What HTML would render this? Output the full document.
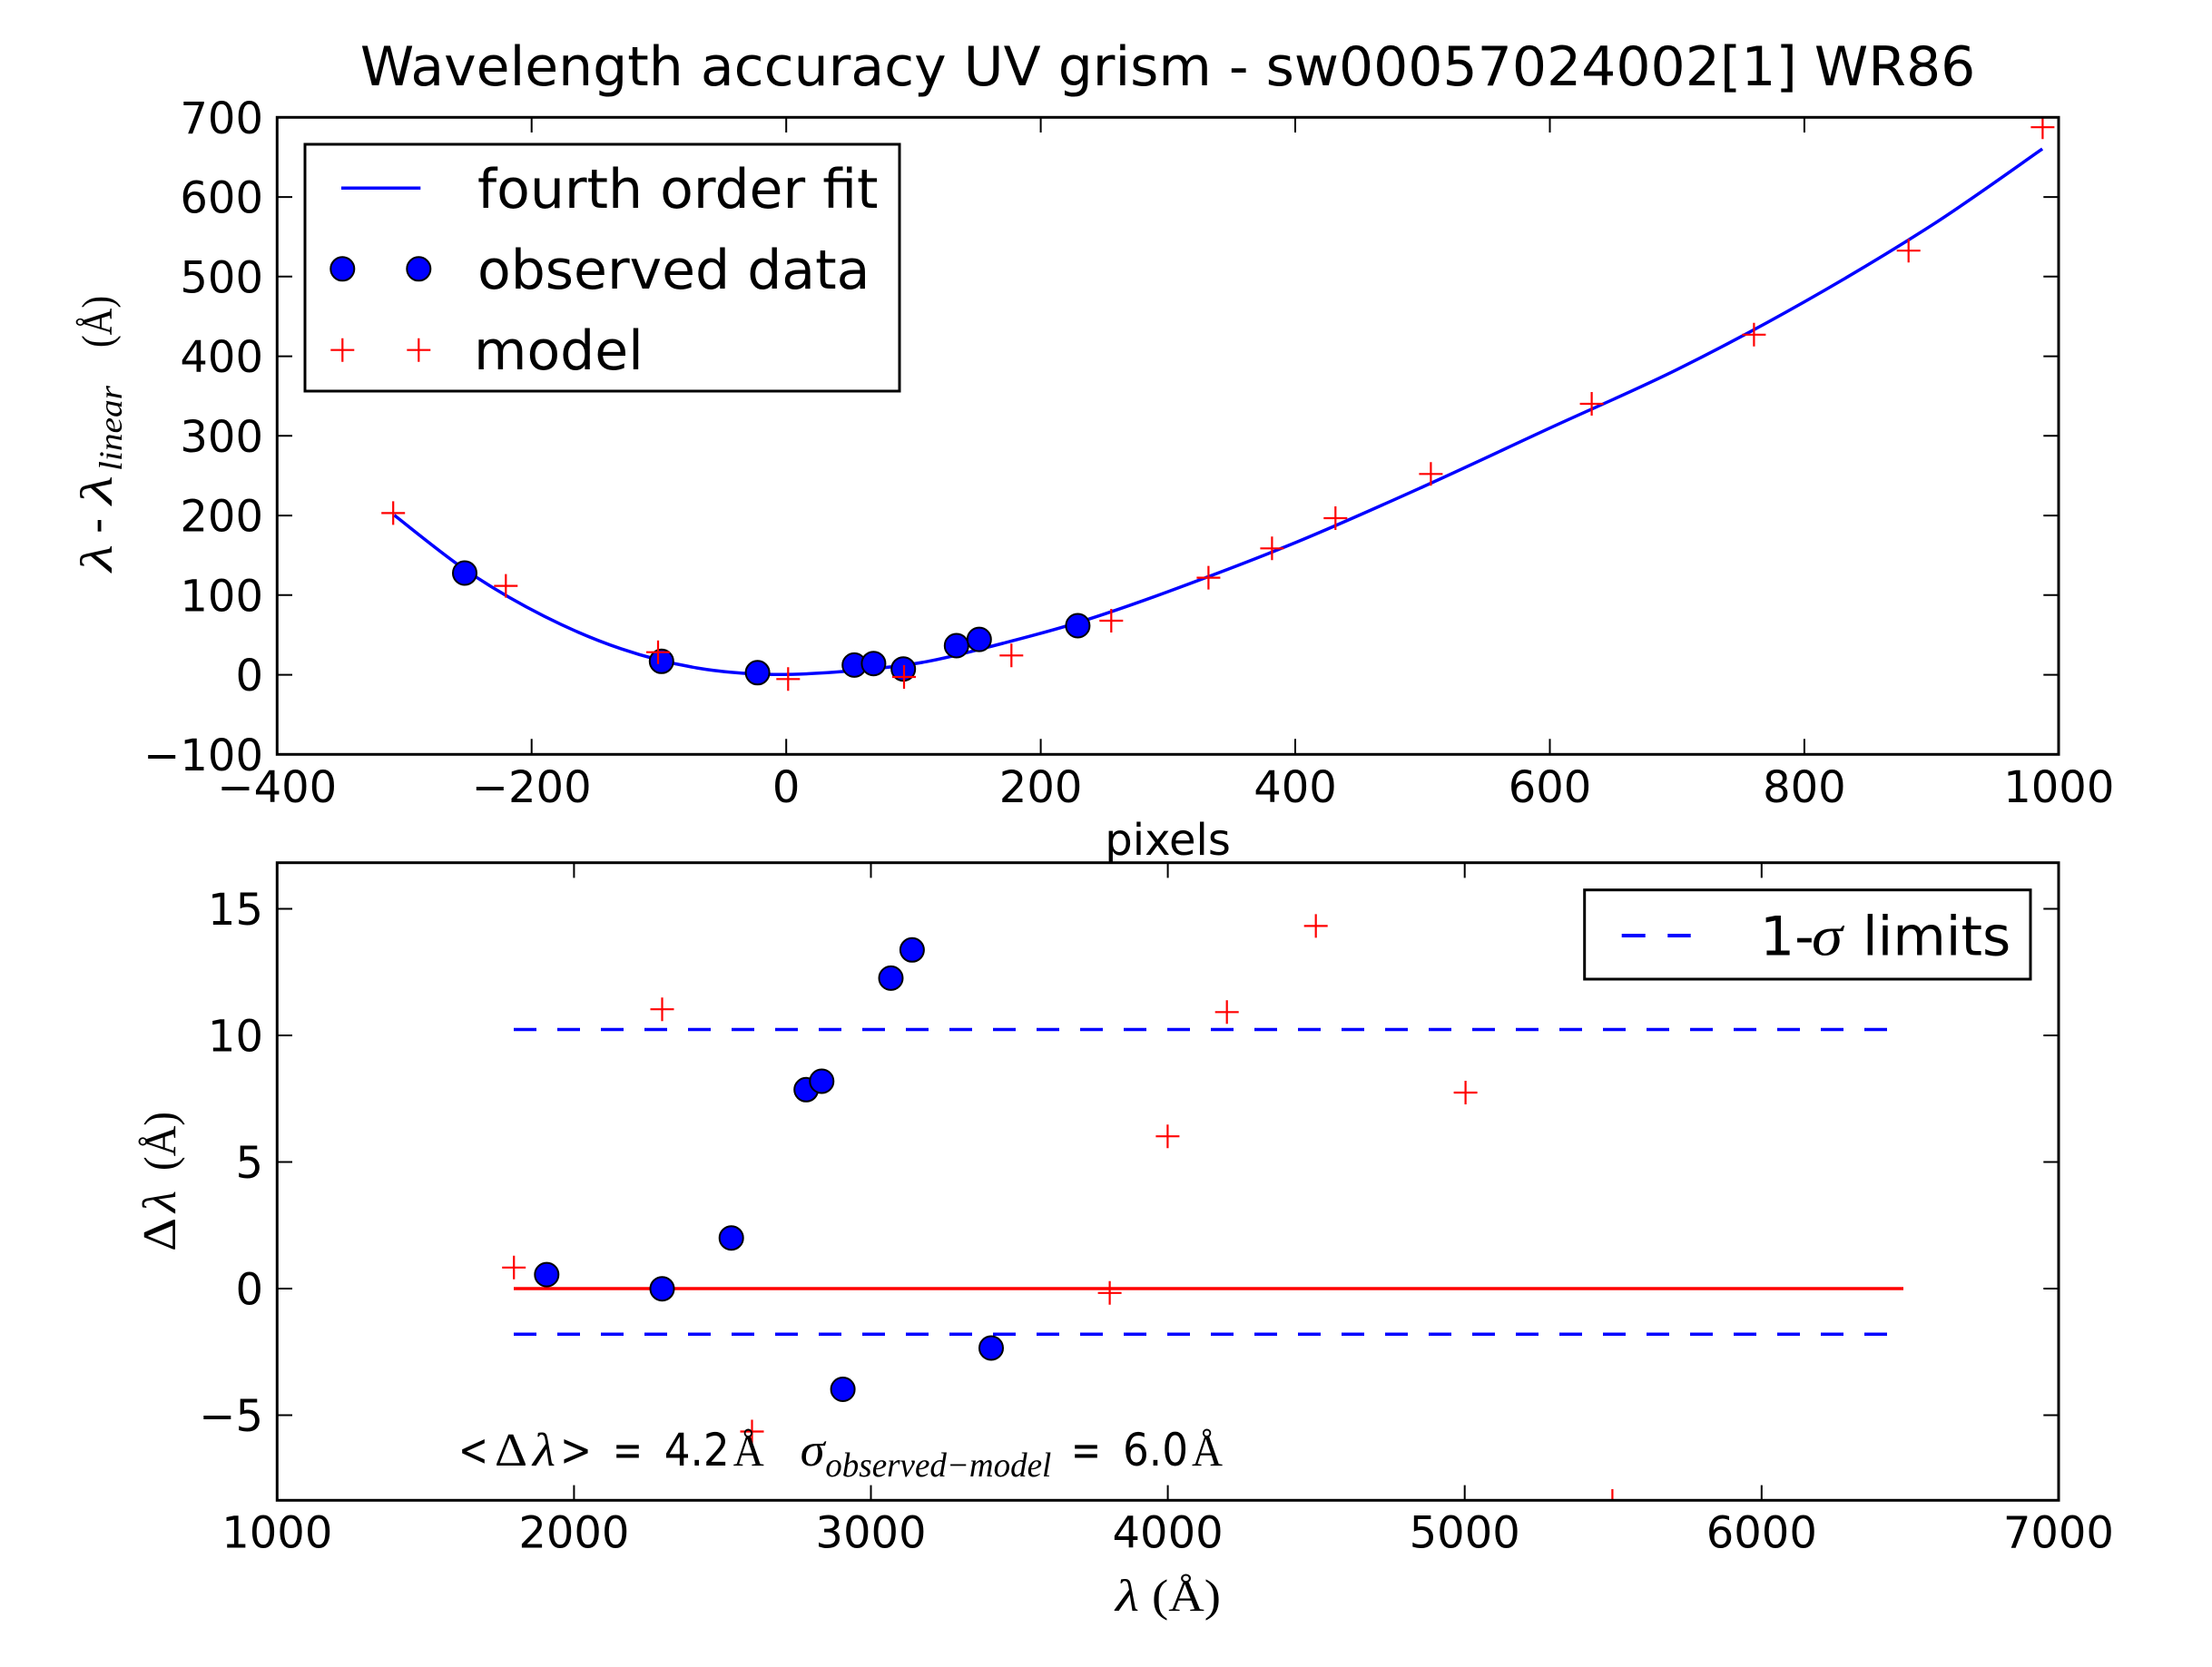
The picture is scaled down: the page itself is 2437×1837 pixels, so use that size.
<!DOCTYPE html>
<html>
<head>
<meta charset="utf-8">
<style>
  html, body { margin: 0; padding: 0; background: #ffffff; }
  svg { display: block; }
  .sans { font-family: "DejaVu Sans", "Liberation Sans", sans-serif; }
  .serif { font-family: "Liberation Serif", "DejaVu Serif", serif; }
  .it { font-style: italic; }
</style>
</head>
<body>
<svg width="2437" height="1837" viewBox="0 0 2437 1837" xmlns="http://www.w3.org/2000/svg">
  <rect x="0" y="0" width="2437" height="1837" fill="#ffffff"/>
  <defs>
    <clipPath id="clipBot">
      <rect x="305.3" y="950.7" width="1962.7" height="702.6"/>
    </clipPath>
    <clipPath id="clipTop">
      <rect x="305.3" y="129.3" width="1962.7" height="702"/>
    </clipPath>
  </defs>

  <!-- ================= TITLE ================= -->
  <text class="sans" x="1286.6" y="94" font-size="60" text-anchor="middle" fill="#000">Wavelength accuracy UV grism - sw00057024002[1] WR86</text>

  <!-- ================= TOP AXES ================= -->
  <g clip-path="url(#clipTop)">
    <path fill="none" stroke="#0000ff" stroke-width="3.5" stroke-linejoin="round"
      d="M434.4,567.75
         C447.95,578.13 488.13,611.47 515.7,630.05
         C543.27,648.63 571.77,665.07 599.8,679.2
         C627.83,693.33 655.85,705.34 683.9,714.8
         C711.95,724.3 740.05,731.36 768.1,736.1
         C796.15,740.84 824.17,742.7 852.2,743.25
         C880.23,743.5 908.27,741.74 936.3,739.4
         C964.33,737.06 992.35,734.27 1020.4,729.2
         C1048.45,724.13 1076.55,716.25 1104.6,709.0
         C1132.65,701.75 1158.33,695.2 1188.7,685.7
         C1219.07,676.2 1247.08,666.62 1286.8,652.0
         C1326.52,637.38 1380.25,617.23 1427.0,598.0
         C1473.75,578.77 1520.55,557.65 1567.3,536.6
         C1614.05,515.55 1660.77,493.27 1707.5,471.7
         C1754.23,450.13 1800.97,430.38 1847.7,407.2
         C1894.43,384.02 1941.17,359.08 1987.9,332.6
         C2034.63,306.12 2084.4,276.38 2128.1,248.3
         C2171.8,220.22 2229.77,178.13 2250.1,164.1"/>
    <!-- observed data circles -->
    <g fill="#0000ff" stroke="#000" stroke-width="2">
      <circle cx="512.0" cy="631.5" r="13"/>
      <circle cx="728.8" cy="728.8" r="13"/>
      <circle cx="834.6" cy="741.3" r="13"/>
      <circle cx="941.2" cy="732.9" r="13"/>
      <circle cx="962.4" cy="731.2" r="13"/>
      <circle cx="995.2" cy="737.2" r="13"/>
      <circle cx="1053.8" cy="711.5" r="13"/>
      <circle cx="1078.8" cy="704.6" r="13"/>
      <circle cx="1187.4" cy="689.5" r="13"/>
    </g>
    <!-- model crosses -->
    <g stroke="#ff0000" stroke-width="2.2" fill="none">
      <path d="M420.2,565.4h26M433.2,552.4v26"/>
      <path d="M544.3,645.6h26M557.3,632.6v26"/>
      <path d="M712,718.7h26M725,705.7v26"/>
      <path d="M855.3,748.3h26M868.3,735.3v26"/>
      <path d="M983,746h26M996,733v26"/>
      <path d="M1101.3,722.3h26M1114.3,709.3v26"/>
      <path d="M1211.3,684h26M1224.3,671v26"/>
      <path d="M1318.4,636.6h26M1331.4,623.6v26"/>
      <path d="M1388.4,604.3h26M1401.4,591.3v26"/>
      <path d="M1458.3,571h26M1471.3,558v26"/>
      <path d="M1563.4,522.3h26M1576.4,509.3v26"/>
      <path d="M1740.6,445h26M1753.6,432v26"/>
      <path d="M1919.4,368.8h26M1932.4,355.8v26"/>
      <path d="M2089.7,276.2h26M2102.7,263.2v26"/>
      <path d="M2237.4,140.2h26M2250.4,127.2v26"/>
    </g>
  </g>

  <!-- top axes ticks -->
  <g stroke="#000" stroke-width="2">
    <path d="M585.7,831v-16.7M866.2,831v-16.7M1146.6,831v-16.7M1427,831v-16.7M1707.5,831v-16.7M1987.9,831v-16.7"/>
    <path d="M585.7,129.3v16.7M866.2,129.3v16.7M1146.6,129.3v16.7M1427,129.3v16.7M1707.5,129.3v16.7M1987.9,129.3v16.7"/>
    <path d="M305.3,217.1h16.7M305.3,304.8h16.7M305.3,392.6h16.7M305.3,480.3h16.7M305.3,568.1h16.7M305.3,655.8h16.7M305.3,743.6h16.7"/>
    <path d="M2268,217.1h-16.7M2268,304.8h-16.7M2268,392.6h-16.7M2268,480.3h-16.7M2268,568.1h-16.7M2268,655.8h-16.7M2268,743.6h-16.7"/>
  </g>
  <rect x="305.3" y="129.3" width="1962.7" height="702" fill="none" stroke="#000" stroke-width="3"/>

  <!-- top legend -->
  <rect x="336" y="159" width="655" height="272" fill="#ffffff" stroke="#000" stroke-width="3"/>
  <line x1="376" y1="207.3" x2="463.3" y2="207.3" stroke="#0000ff" stroke-width="3.5"/>
  <g fill="#0000ff" stroke="#000" stroke-width="2">
    <circle cx="377.3" cy="296.3" r="13"/>
    <circle cx="461.3" cy="296.3" r="13"/>
  </g>
  <g stroke="#ff0000" stroke-width="2.2" fill="none">
    <path d="M364.3,385.7h26M377.3,372.7v26"/>
    <path d="M448.3,385.7h26M461.3,372.7v26"/>
  </g>
  <g class="sans" font-size="60" fill="#000">
    <text x="526" y="229">fourth order fit</text>
    <text x="526" y="318">observed data</text>
    <text x="522" y="407">model</text>
  </g>

  <!-- top tick labels -->
  <g class="sans" font-size="48" fill="#000" text-anchor="middle">
    <text x="305.3" y="884">−400</text>
    <text x="585.7" y="884">−200</text>
    <text x="866.2" y="884">0</text>
    <text x="1146.6" y="884">200</text>
    <text x="1427" y="884">400</text>
    <text x="1707.5" y="884">600</text>
    <text x="1987.9" y="884">800</text>
    <text x="2268.3" y="884">1000</text>
  </g>
  <g class="sans" font-size="48" fill="#000" text-anchor="end">
    <text x="290" y="146.8">700</text>
    <text x="290" y="234.6">600</text>
    <text x="290" y="322.3">500</text>
    <text x="290" y="410.1">400</text>
    <text x="290" y="497.8">300</text>
    <text x="290" y="585.6">200</text>
    <text x="290" y="673.3">100</text>
    <text x="290" y="761.1">0</text>
    <text x="290" y="848.8">−100</text>
  </g>
  <text class="sans" x="1286.6" y="942" font-size="48" text-anchor="middle" fill="#000">pixels</text>

  <!-- top y label (rotated) -->
  <g transform="translate(123,632) rotate(-90)" fill="#000">
    <text class="serif it" x="2" y="0" font-size="50" textLength="30" lengthAdjust="spacingAndGlyphs">λ</text>
    <text class="sans" x="44" y="0" font-size="48">-</text>
    <text class="serif it" x="76" y="0" font-size="50" textLength="32" lengthAdjust="spacingAndGlyphs">λ</text>
    <text class="serif it" x="113" y="11" font-size="36" textLength="94" lengthAdjust="spacingAndGlyphs">linear</text>
    <text class="serif" x="249" y="0" font-size="48" textLength="57" lengthAdjust="spacingAndGlyphs">(Å)</text>
  </g>

  <!-- ================= BOTTOM AXES ================= -->
  <g clip-path="url(#clipBot)">
    <line x1="566" y1="1420" x2="2097" y2="1420" stroke="#ff0000" stroke-width="3.5"/>
    <line x1="566" y1="1134.5" x2="2097" y2="1134.5" stroke="#0000ff" stroke-width="3.5" stroke-dasharray="25,23"/>
    <line x1="566" y1="1470.2" x2="2097" y2="1470.2" stroke="#0000ff" stroke-width="3.5" stroke-dasharray="25,23"/>
    <g stroke="#ff0000" stroke-width="2.2" fill="none">
      <path d="M553.2,1396.8h26M566.2,1383.8v26"/>
      <path d="M716.5,1112.2h26M729.5,1099.2v26"/>
      <path d="M815.5,1577.5h26M828.5,1564.5v26"/>
      <path d="M1209.6,1424.8h26M1222.6,1411.8v26"/>
      <path d="M1273.4,1252.2h26M1286.4,1239.2v26"/>
      <path d="M1338.7,1115.3h26M1351.7,1102.3v26"/>
      <path d="M1436.7,1020.4h26M1449.7,1007.4v26"/>
      <path d="M1601.6,1204h26M1614.6,1191v26"/>
      <path d="M1763.4,1654h26M1776.4,1641v26"/>
    </g>
    <g fill="#0000ff" stroke="#000" stroke-width="2">
      <circle cx="602.3" cy="1404.6" r="13"/>
      <circle cx="729.5" cy="1420.2" r="13"/>
      <circle cx="805.7" cy="1364.2" r="13"/>
      <circle cx="888.2" cy="1200.8" r="13"/>
      <circle cx="905.3" cy="1191.5" r="13"/>
      <circle cx="928.6" cy="1531" r="13"/>
      <circle cx="981.5" cy="1077.9" r="13"/>
      <circle cx="1004.9" cy="1046.8" r="13"/>
      <circle cx="1092" cy="1485.5" r="13"/>
    </g>
  </g>

  <!-- annotation text -->
  <g fill="#000">
    <text class="sans" x="505" y="1615" font-size="50" textLength="33" lengthAdjust="spacingAndGlyphs">&lt;</text>
    <text class="serif" x="545" y="1615" font-size="52" textLength="36" lengthAdjust="spacingAndGlyphs">Δ</text>
    <text class="serif it" x="587" y="1615" font-size="52" textLength="25" lengthAdjust="spacingAndGlyphs">λ</text>
    <text class="sans" x="617" y="1615" font-size="50" textLength="35" lengthAdjust="spacingAndGlyphs">&gt;</text>
    <text class="sans" x="675" y="1615" font-size="50" textLength="33" lengthAdjust="spacingAndGlyphs">=</text>
    <text class="sans" x="731.7" y="1615" font-size="50" textLength="72" lengthAdjust="spacingAndGlyphs">4.2</text>
    <text class="serif" x="807.7" y="1615" font-size="50" textLength="34" lengthAdjust="spacingAndGlyphs">Å</text>
    <text class="serif it" x="881.7" y="1615" font-size="52" textLength="27" lengthAdjust="spacingAndGlyphs">σ</text>
    <text class="serif it" x="909.3" y="1627" font-size="38" textLength="249" lengthAdjust="spacingAndGlyphs">observed−model</text>
    <text class="sans" x="1180" y="1615" font-size="50" textLength="33" lengthAdjust="spacingAndGlyphs">=</text>
    <text class="sans" x="1237" y="1615" font-size="50" textLength="72" lengthAdjust="spacingAndGlyphs">6.0</text>
    <text class="serif" x="1313" y="1615" font-size="50" textLength="34" lengthAdjust="spacingAndGlyphs">Å</text>
  </g>

  <!-- bottom axes ticks -->
  <g stroke="#000" stroke-width="2">
    <path d="M632.4,1653.3v-16.7M959.5,1653.3v-16.7M1286.6,1653.3v-16.7M1613.7,1653.3v-16.7M1940.8,1653.3v-16.7"/>
    <path d="M632.4,950.7v16.7M959.5,950.7v16.7M1286.6,950.7v16.7M1613.7,950.7v16.7M1940.8,950.7v16.7"/>
    <path d="M305.3,1001.5h16.7M305.3,1141h16.7M305.3,1280.5h16.7M305.3,1420h16.7M305.3,1559.5h16.7"/>
    <path d="M2268,1001.5h-16.7M2268,1141h-16.7M2268,1280.5h-16.7M2268,1420h-16.7M2268,1559.5h-16.7"/>
  </g>
  <rect x="305.3" y="950.7" width="1962.7" height="702.6" fill="none" stroke="#000" stroke-width="3"/>

  <!-- bottom legend -->
  <rect x="1745.7" y="980.7" width="491.3" height="98.3" fill="#ffffff" stroke="#000" stroke-width="3"/>
  <line x1="1786.7" y1="1031" x2="1812.7" y2="1031" stroke="#0000ff" stroke-width="4"/>
  <line x1="1837.3" y1="1031" x2="1862.7" y2="1031" stroke="#0000ff" stroke-width="4"/>
  <g fill="#000">
    <text class="sans" x="1939" y="1052.7" font-size="60">1-</text>
    <text class="serif it" x="1996" y="1052.7" font-size="62" textLength="34" lengthAdjust="spacingAndGlyphs">σ</text>
    <text class="sans" x="2052" y="1052.7" font-size="60">limits</text>
  </g>

  <!-- bottom tick labels -->
  <g class="sans" font-size="48" fill="#000" text-anchor="middle">
    <text x="305.3" y="1705.7">1000</text>
    <text x="632.4" y="1705.7">2000</text>
    <text x="959.5" y="1705.7">3000</text>
    <text x="1286.6" y="1705.7">4000</text>
    <text x="1613.7" y="1705.7">5000</text>
    <text x="1940.8" y="1705.7">6000</text>
    <text x="2267.9" y="1705.7">7000</text>
  </g>
  <g class="sans" font-size="48" fill="#000" text-anchor="end">
    <text x="290" y="1019">15</text>
    <text x="290" y="1158.5">10</text>
    <text x="290" y="1298">5</text>
    <text x="290" y="1437.5">0</text>
    <text x="290" y="1577">−5</text>
  </g>

  <!-- bottom x label -->
  <g fill="#000">
    <text class="serif it" x="1229" y="1775" font-size="50" textLength="26" lengthAdjust="spacingAndGlyphs">λ</text>
    <text class="serif" x="1269" y="1775" font-size="50" textLength="76" lengthAdjust="spacingAndGlyphs">(Å)</text>
  </g>

  <!-- bottom y label (rotated) -->
  <g transform="translate(193,1379) rotate(-90)" fill="#000">
    <text class="serif" x="0" y="0" font-size="52" textLength="37" lengthAdjust="spacingAndGlyphs">Δ</text>
    <text class="serif it" x="43" y="0" font-size="52" textLength="24" lengthAdjust="spacingAndGlyphs">λ</text>
    <text class="serif" x="89" y="0" font-size="50" textLength="65" lengthAdjust="spacingAndGlyphs">(Å)</text>
  </g>
</svg>
</body>
</html>
